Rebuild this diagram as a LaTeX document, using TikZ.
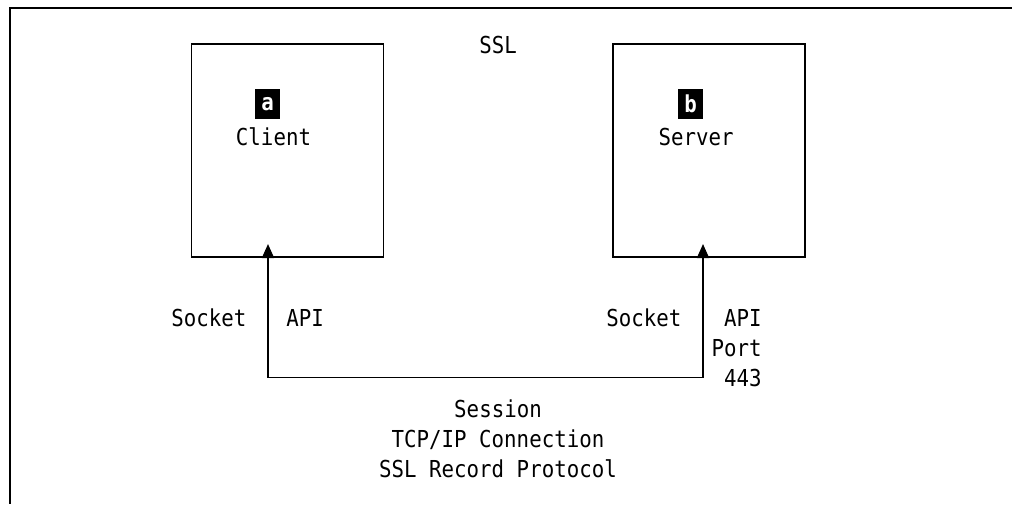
\documentclass[tikz,border=0pt]{standalone}
\usepackage{fontspec}
\usetikzlibrary{positioning, arrows.meta}
\newfontfamily\ibmmono[FakeStretch=0.89]{DejaVu Sans Mono}

\begin{document}
\begin{tikzpicture}[
  x=0.75pt, y=-0.75pt,
  every node/.style={font=\ibmmono\fontsize{17.5}{22.5}\selectfont, inner sep=0pt},
  hostbox/.style={draw, line width=1.1pt, minimum width=144pt, minimum height=159.75pt},
  tagbox/.style={fill=black, text=white, minimum width=18.75pt, minimum height=22.5pt,
    font=\ibmmono\bfseries\fontsize{17.5}{22.5}\selectfont},
  arr/.style={{Triangle[length=10.5pt, width=9pt]}-{Triangle[length=10.5pt, width=9pt]}, line width=1.3pt},
  frame/.style={line width=1.6pt}
]
  \useasboundingbox (0,0) rectangle (1012,504);

  % Frame (open at right and bottom)
  \draw[frame] (1012,8) -- (10,8) -- (10,504);

  \node[anchor=base] (ssl) at (498,53) {SSL};

  % Client
  \node[hostbox] (client) at (287.5,150.5) {};
  \node[tagbox] (taga) at (267.5,104) {a};
  \node[anchor=base] (clientlbl) at (273.5,145) {Client};

  % Server
  \node[hostbox] (server) at (709,150.5) {};
  \node[tagbox] (tagb) at (690.5,104) {b};
  \node[anchor=base] (serverlbl) at (696,145) {Server};

  % Socket API ends
  \coordinate (ctip) at (268,244);
  \coordinate (stip) at (703,244);
  \coordinate (bus) at (500,377.5);
  \draw[arr] (ctip) -- (ctip |- bus) -| (stip);

  \node[anchor=base west] (csock) at (171,326) {Socket};
  \node[anchor=base west] (capi) at (286,326) {API};
  \node[anchor=base west] (ssock) at (606,326) {Socket};
  \node[align=right, anchor=east] (sapi) at (762,348.5) {API\\Port\\443};

  % Session
  \node[align=center] (session) at (498,438.5) {Session\\TCP/IP Connection\\SSL Record Protocol};
\end{tikzpicture}
\end{document}
